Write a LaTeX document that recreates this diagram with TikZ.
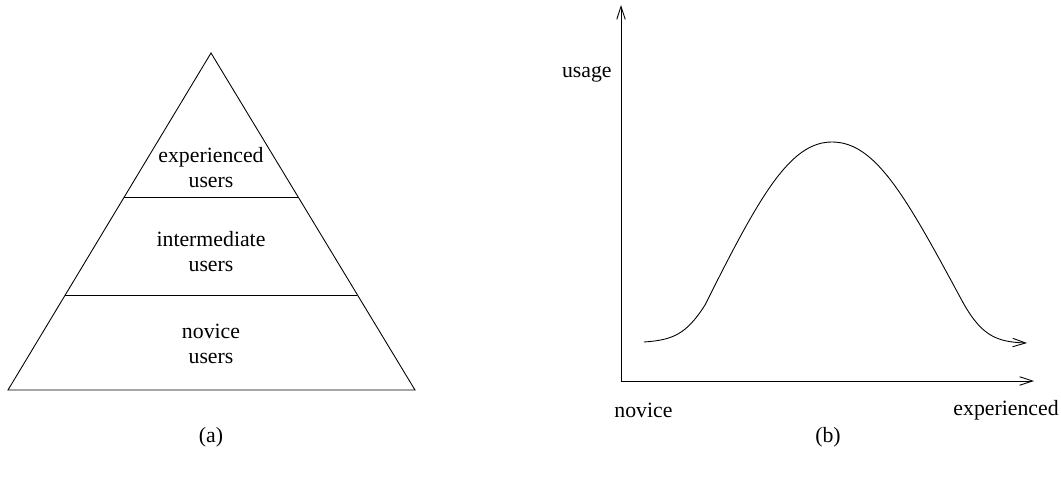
\documentclass[tikz,border=0pt]{standalone}
\usepackage{fontspec}
\setmainfont{Liberation Serif}
\usepackage{tikz}
\usetikzlibrary{positioning, arrows.meta, calc}

\begin{document}
\begin{tikzpicture}[x=0.02cm, y=-0.02cm]
			\tikzset{
				lbl/.style={font=\fontsize{12.4}{14.2}\selectfont, align=center, inner sep=0pt},
				edge/.style={line width=0.5pt, black},
				axis/.style={edge, -{Straight Barb[length=2.6mm, width=1.7mm, line width=0.5pt]}},
			}
			\useasboundingbox (0,0) rectangle (1061,480);
			
			% Pyramid (a)
			\coordinate (apex) at (211,53);
			\coordinate (bl) at (8,390);
			\coordinate (br) at (415,390);
			\draw[edge] (bl) -- (apex) -- (br) -- cycle;
			\draw[edge] ($(apex)!0.4273!(bl)$) -- ($(apex)!0.4273!(br)$);
			\draw[edge] ($(apex)!0.7181!(bl)$) -- ($(apex)!0.7181!(br)$);
			
			\node[lbl] (exp) at (211,168) {experienced\\users};
			\node[lbl] (inter) at (211,252) {intermediate\\users};
			\node[lbl] (nov) at (211,344) {novice\\users};
			\node[lbl] (a) at (211,437) {(a)};
			
			% Draw axes (b)
			\coordinate (O) at (621,381);
			\coordinate (ytip) at (621,5);
			\coordinate (xtip) at (1034,381);
			\draw[axis] (O) -- (ytip);
			\draw[axis] (O) -- (xtip);
			
			\node[lbl, anchor=east] (usage) at (612,74) {usage};
			\node[lbl, anchor=west] (novice) at (614,410) {novice};
			\node[lbl, anchor=east] (expd) at (1059,410) {experienced};
			\node[lbl] (b) at (828,437) {(b)};
			
			% Usage curve
			\draw[axis] (644,342) .. controls (672,340) and (686,335) .. (705,305)
				.. controls (760,195) and (790,142) .. (832,142)
				.. controls (875,142) and (905,195) .. (960,297)
				.. controls (980,335) and (995,342) .. (1027,343);
		\end{tikzpicture}
\end{document}
